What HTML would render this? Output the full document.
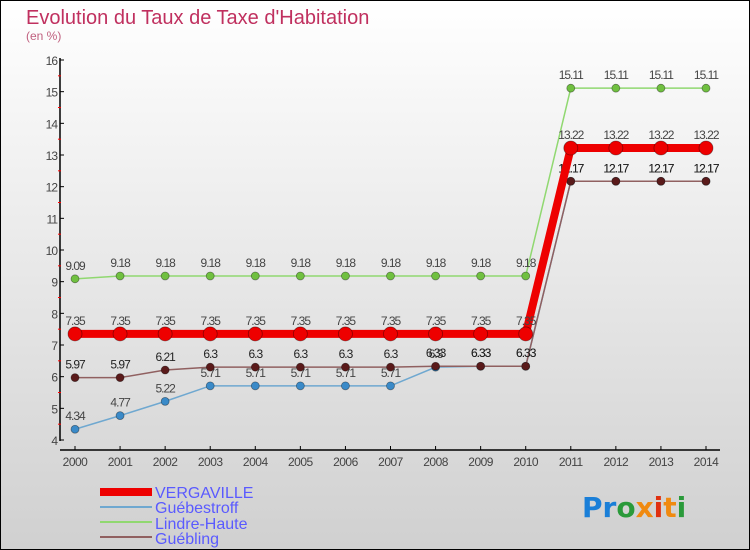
<!DOCTYPE html>
<html><head><meta charset="utf-8"><style>
body{margin:0;width:750px;height:550px;overflow:hidden;font-family:"Liberation Sans",sans-serif}
svg{display:block}
</style></head><body>
<svg id="chart" width="750" height="550">
<defs><linearGradient id="bg" x1="0" y1="0" x2="0" y2="1"><stop offset="0" stop-color="#ffffff"/><stop offset="1" stop-color="#d0d0d0"/></linearGradient></defs>
<rect x="0.5" y="0.5" width="749" height="549" fill="url(#bg)" stroke="#000"/>
<text x="26" y="24" font-size="20" fill="#c0305f">Evolution du Taux de Taxe d'Habitation</text>
<text x="26" y="40" font-size="12" fill="#c0607f">(en %)</text>
<g id="axes"></g><g id="series"></g>
<g>
<rect x="100" y="488" width="52" height="8" fill="#e00"/>
<text x="155" y="498" font-size="16" fill="#5a5aff">VERGAVILLE</text>
<rect x="100" y="506" width="52" height="2" fill="#6fa8d0"/>
<text x="155" y="513" font-size="16" fill="#5a5aff">Guébestroff</text>
<rect x="100" y="521" width="52" height="2" fill="#90d870"/>
<text x="155" y="529" font-size="16" fill="#5a5aff">Lindre-Haute</text>
<rect x="100" y="536" width="52" height="2" fill="#906060"/>
<text x="155" y="544" font-size="16" fill="#5a5aff">Guébling</text>
</g>
<g font-size="28" font-weight="bold" font-family="'DejaVu Sans',sans-serif">
<text x="582" y="517"><tspan fill="#1a7fd8">Pr</tspan><tspan fill="#2a9a3a">o</tspan><tspan fill="#f08a10">x</tspan><tspan fill="#e03010">i</tspan><tspan fill="#f08a10">t</tspan><tspan fill="#2a9a3a">i</tspan></text>
</g>
</svg>
<script>
const years=[2000,2001,2002,2003,2004,2005,2006,2007,2008,2009,2010,2011,2012,2013,2014];
const yTicks=[4,5,6,7,8,9,10,11,12,13,14,15,16];
const vergaville=[7.35,7.35,7.35,7.35,7.35,7.35,7.35,7.35,7.35,7.35,7.35,13.22,13.22,13.22,13.22];
const guebestroff=[4.34,4.77,5.22,5.71,5.71,5.71,5.71,5.71,6.3,6.33,6.33,12.17,12.17,12.17,12.17];
const lindreHaute=[9.09,9.18,9.18,9.18,9.18,9.18,9.18,9.18,9.18,9.18,9.18,15.11,15.11,15.11,15.11];
const guebling=[5.97,5.97,6.21,6.3,6.3,6.3,6.3,6.3,6.33,6.33,6.33,12.17,12.17,12.17,12.17];
const NS='http://www.w3.org/2000/svg';
const x=i=>75+i*(706-75)/(years.length-1);
const y=v=>440-(v-4)*(380/12);
function el(t,a,p){const e=document.createElementNS(NS,t);for(const k in a)e.setAttribute(k,a[k]);p.appendChild(e);return e;}
const ax=document.getElementById('axes'),sg=document.getElementById('series');
const ya=el('line',{x1:60,y1:58,x2:60,y2:441,stroke:'#000','stroke-width':1.5},ax);


const xa=el('line',{x1:60,y1:450,x2:720,y2:450,stroke:'#000','stroke-width':1.5},ax);


yTicks.forEach(v=>{
 el('line',{x1:60,y1:y(v),x2:64,y2:y(v),stroke:'#000'},ax);
 if(v<16)el('line',{x1:58,y1:y(v+0.5),x2:61,y2:y(v+0.5),stroke:'#f00'},ax);
 const t=el('text',{x:57,y:y(v)+5,'font-size':12,fill:'#444','text-anchor':'end','letter-spacing':'-1'},ax);t.textContent=v;
 
 
});
years.forEach((yr,i)=>{
 el('line',{x1:x(i),y1:446,x2:x(i),y2:450,stroke:'#000'},ax);
 const t=el('text',{x:x(i),y:466,'font-size':12,fill:'#444','text-anchor':'middle','letter-spacing':'-0.5'},ax);t.textContent=yr;
 
 
});
function series(vals,color,dot,w,r,name,lblColor){
 const g=el('g',{},sg);
 
 
 el('polyline',{points:vals.map((v,i)=>x(i)+','+y(v)).join(' '),fill:'none',stroke:color,'stroke-width':w},g);
 vals.forEach((v,i)=>{
  const c=el('circle',{cx:x(i),cy:y(v),r:r,fill:dot,stroke:'rgba(0,0,0,0.4)','stroke-width':0.8},g);
  
  
  const t=el('text',{x:x(i),y:y(v)-9,'font-size':12,fill:lblColor,'text-anchor':'middle','letter-spacing':'-1'},g);
  t.textContent=v;
  
  
 });
}
series(guebestroff,'#6fa8d0','#3a8ac8',1.5,4,'guebestroff','#444');
series(lindreHaute,'#90d870','#70c040',1.5,4,'lindre-haute','#444');
series(guebling,'#906060','#5a1a1a',1.5,4,'guebling','#222');
series(vergaville,'#ee0000','#ee0000',8,7,'vergaville','#444');
</script>
</body></html>
